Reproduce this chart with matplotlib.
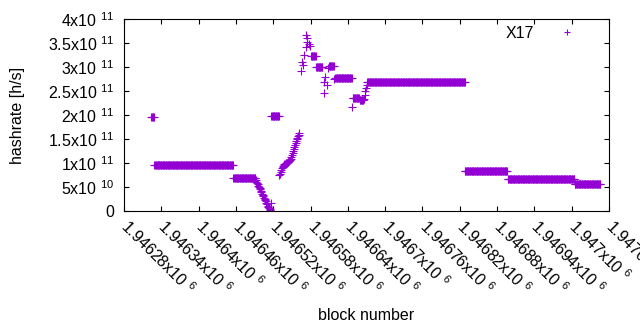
import numpy as np
import matplotlib
matplotlib.use('Agg')
import matplotlib.pyplot as plt
from matplotlib.lines import Line2D

plt.rcParams['font.family'] = ['Liberation Sans', 'DejaVu Sans']
plt.rcParams['mathtext.default'] = 'regular'

# flat runs of constant hashrate: first block, last block, rate [h/s]
run_start = [1946324, 1946329, 1946456, 1946517, 1946581, 1946589, 1946610,
             1946620, 1946648, 1946659, 1946671, 1946828, 1946897, 1947005]
run_end = [1946328, 1946455, 1946491, 1946529, 1946588, 1946599, 1946617,
           1946646, 1946658, 1946665, 1946828, 1946896, 1947004, 1947046]
run_rate = [1.95e11, 9.52e10, 6.81e10, 1.979e11, 3.22e11, 2.99e11, 3.03e11,
            2.78e11, 2.35e11, 2.31e11, 2.68e11, 8.27e10, 6.6e10, 5.56e10]

# drop after the 6.8e10 run (x1e10)
drop_blocks = list(range(1946492, 1946517))
drop_rate = [6.4, 6.1, 5.8, 5.6, 5.3, 5.0, 4.7, 4.5, 4.2, 3.9, 3.6, 3.4, 3.1,
             2.8, 2.5, 2.2, 2.0, 1.7, 1.4, 1.1, 0.9, 0.6, 0.4, 0.2, 1.7]

# climb after the 2e11 spike (x1e10)
climb_blocks = list(range(1946530, 1946563))
climb_rate = [7.4, 7.8, 8.2, 8.6, 8.9, 9.2, 9.4, 9.6, 9.7, 9.8, 9.9, 10.0,
              10.1, 10.2, 10.3, 10.4, 10.5, 10.7, 10.9, 11.2, 11.6, 12.0, 12.5,
              13.0, 13.4, 13.8, 14.2, 14.6, 15.0, 15.3, 15.6, 15.9, 16.2]

# scattered points around the peak (x1e11)
peak_blocks = [1946565, 1946567, 1946568, 1946570, 1946572, 1946573, 1946574,
               1946575, 1946577, 1946579, 1946601, 1946602, 1946604, 1946606,
               1946608, 1946618, 1946647, 1946666, 1946667, 1946668, 1946669,
               1946670]
peak_rate = [2.92, 3.10, 3.04, 3.26, 3.41, 3.66, 3.60, 3.53, 3.47, 3.43, 2.46,
             2.68, 2.79, 2.62, 2.98, 2.74, 2.16, 2.33, 2.42, 2.49, 2.57, 2.63]

xticks = list(range(1946280, 1947061, 60))
yticks = [0, 5e10, 1e11, 1.5e11, 2e11, 2.5e11, 3e11, 3.5e11, 4e11]

# build per-block series
blocks = []
rates = []
for s, e, r in zip(run_start, run_end, run_rate):
    for b in range(s, e + 1):
        blocks.append(b)
        rates.append(r)
blocks += drop_blocks + climb_blocks + peak_blocks
rates += [v * 1e10 for v in drop_rate] + [v * 1e10 for v in climb_rate] + [v * 1e11 for v in peak_rate]

color = '#9400D3'
fs = 11.5
fig = plt.figure(figsize=(6.4, 3.3), dpi=100)
ax = fig.add_axes([124 / 640, 119 / 330, 485 / 640, 192 / 330])
ax.plot(blocks, rates, linestyle='none', marker='+', markersize=5.5,
        markeredgewidth=0.8, color=color)

ax.set_xlim(xticks[0], xticks[-1])
ax.set_ylim(0, 4e11)


def fmt(v):
    if v == 0:
        return '0'
    exp = int(np.floor(np.log10(v)))
    return '%gx10 $^{%d}$' % (v / 10 ** exp, exp)


ax.set_xticks(xticks)
ax.set_xticklabels([fmt(t) for t in xticks], rotation=-45, ha='left',
                   va='center', rotation_mode='anchor', fontsize=fs)
ax.set_yticks(yticks)
ax.set_yticklabels([fmt(t) for t in yticks], fontsize=fs)
ax.tick_params(direction='in', length=3.4, width=0.8, top=True, right=True,
               colors='black')
ax.tick_params(axis='x', pad=9)
ax.tick_params(axis='y', pad=7)
for sp in ax.spines.values():
    sp.set_linewidth(0.8)

ax.set_xlabel('block number', fontsize=fs)
ax.xaxis.set_label_coords(0.5, -0.505)
ax.set_ylabel('hashrate [h/s]', fontsize=fs)
ax.yaxis.set_label_coords(-0.204, 0.5)

proxy = Line2D([], [], linestyle='none', marker='+', markersize=5,
               markeredgewidth=0.8, color=color)
ax.legend([proxy], ['X17'], loc='upper right', markerfirst=False,
          frameon=False, fontsize=fs, bbox_to_anchor=(0.986, 1.041),
          handlelength=2.6)

fig.savefig('out.png', dpi=100)
